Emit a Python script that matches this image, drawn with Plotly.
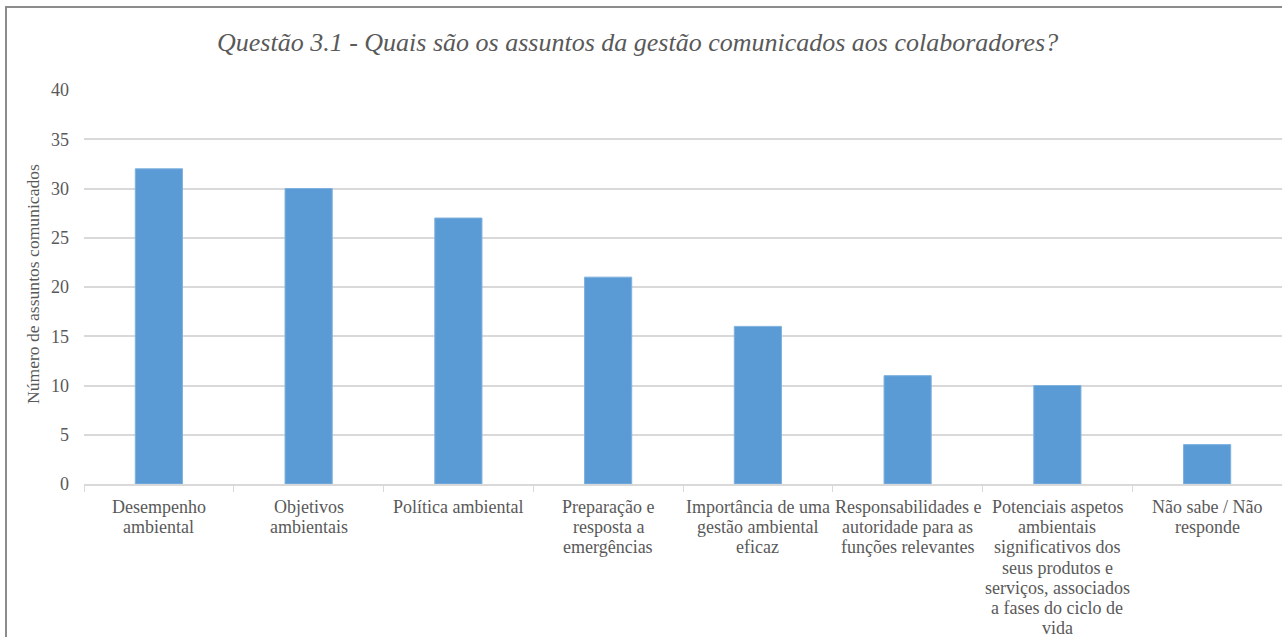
import plotly.graph_objects as go

categories = [
    "Desempenho\nambiental",
    "Objetivos\nambientais",
    "Política ambiental",
    "Preparação e\nresposta a\nemergências",
    "Importância de uma\ngestão ambiental\neficaz",
    "Responsabilidades e\nautoridade para as\nfunções relevantes",
    "Potenciais aspetos\nambientais\nsignificativos dos\nseus produtos e\nserviços, associados\na fases do ciclo de\nvida",
    "Não sabe / Não\nresponde",
]
values = [32, 30, 27, 21, 16, 11, 10, 4]
y_ticks = [0, 5, 10, 15, 20, 25, 30, 35, 40]

title_text = "Questão 3.1 - Quais são os assuntos da gestão comunicados aos colaboradores?"
y_title = "Número de assuntos comunicados"

W, H = 1282, 637
ML, MR, MT, MB = 84, 0, 90, 153
TXT = "#595959"
FONT = "Liberation Serif"

fig = go.Figure()
fig.add_trace(go.Bar(
    x=list(range(len(categories))),
    y=values,
    marker=dict(color="#5B9BD5", line=dict(color="#7FB0DE", width=1)),
    hoverinfo="y",
))

pw = W - ML - MR
ph = H - MT - MB

annotations = []
for i, lab in enumerate(categories):
    for j, line in enumerate(lab.split("\n")):
        annotations.append(dict(
            x=i, xref="x", y=0, yref="paper", yanchor="middle", xanchor="center",
            yshift=-23 - j * 20.2, text=line, showarrow=False,
            font=dict(family=FONT, size=18, color=TXT),
        ))

# title as annotation (serif italic)
annotations.append(dict(
    x=(637 - ML) / pw, xref="paper", y=(H - MB - 42) / ph, yref="paper",
    xanchor="center", yanchor="middle", showarrow=False,
    text="<i>" + title_text + "</i>",
    font=dict(family=FONT, size=26, color=TXT),
))

# y-axis title as rotated annotation
annotations.append(dict(
    x=(33 - ML) / pw, xref="paper", y=(H - MB - 284) / ph, yref="paper",
    xanchor="center", yanchor="middle", showarrow=False, textangle=-90,
    text=y_title, font=dict(family=FONT, size=17.6, color=TXT),
))

x0 = (6 - ML) / pw
y1 = (H - MB - 7) / ph

fig.update_layout(
    width=W, height=H,
    margin=dict(l=ML, r=MR, t=MT, b=MB, autoexpand=False),
    paper_bgcolor="white", plot_bgcolor="white",
    showlegend=False,
    bargap=0.685,
    xaxis=dict(
        type="linear", range=[-0.5, len(categories) - 0.5],
        tickmode="array", tickvals=[i - 0.5 for i in range(len(categories) + 1)],
        showticklabels=False, ticks="outside", ticklen=6, tickcolor="#D9D9D9",
        showgrid=False, showline=True, linecolor="#D9D9D9", linewidth=1.5,
        zeroline=False, fixedrange=True, automargin=False,
    ),
    yaxis=dict(
        range=[0, 40], tickmode="array", tickvals=y_ticks,
        showgrid=True, gridcolor="#D9D9D9", gridwidth=1.5,
        zeroline=False, showline=False, ticks="",
        ticklabelstandoff=14, automargin=False,
        tickfont=dict(family=FONT, size=18, color=TXT),
        fixedrange=True,
    ),
    annotations=annotations,
    shapes=[dict(type="rect", xref="paper", yref="paper",
                 x0=x0, x1=1.05, y0=-0.6, y1=y1,
                 line=dict(color="#8C8C8C", width=2), fillcolor="rgba(0,0,0,0)", layer="above")],
)

fig.write_html("out.html", config={"displayModeBar": False},
               post_script="document.body.style.margin='0';document.body.style.overflow='hidden';")
